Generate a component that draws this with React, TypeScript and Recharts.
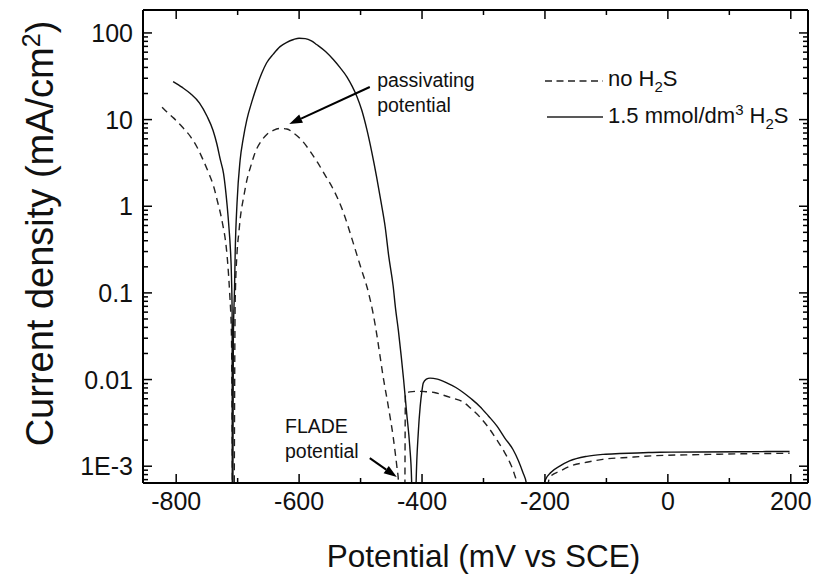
import {
  LineChart,
  Line,
  XAxis,
  YAxis,
  Legend,
  Label,
  ReferenceLine,
  ReferenceDot,
} from 'recharts';

const FONT = '"Liberation Sans", Arial, Helvetica, sans-serif';

// [potential (mV vs SCE), current density (mA/cm2)]
// values of 1e-5 / 5e-4 sit below the axis floor (the |i| dips on the log scale)
const NO_H2S_CURVE: [number, number][] = [
  [-823, 13.9], [-815, 12.2], [-804, 10.4], [-790, 8.2], [-777, 6.4], [-766, 4.8],
  [-756, 3.4], [-747, 2.4], [-739, 1.69], [-733, 1.15], [-728, 0.83], [-724, 0.6],
  [-720, 0.41], [-717, 0.26], [-715, 0.17], [-713, 0.1], [-710, 0.03], [-707, 1e-5],
  [-704, 0.08], [-701, 0.29], [-698, 0.5], [-696, 0.7], [-690, 1.3], [-685, 2.0],
  [-678, 3.0], [-672, 4.1], [-662, 5.6], [-653, 6.7], [-642, 7.5], [-631, 7.9],
  [-620, 7.8], [-609, 7.0], [-595, 5.7], [-582, 4.3], [-570, 3.2], [-558, 2.3],
  [-544, 1.55], [-528, 0.85], [-514, 0.42], [-500, 0.2], [-487, 0.1], [-479, 0.055],
  [-473, 0.031], [-468, 0.018], [-462, 0.0095], [-457, 0.006], [-452, 0.0037],
  [-447, 0.0022], [-444, 0.0015], [-441, 0.001], [-438, 0.0006], [-436, 1e-5],
  [-429, 1e-5], [-427, 0.0069], [-420, 0.0072], [-410, 0.0073], [-400, 0.0073],
  [-390, 0.0072], [-380, 0.0071], [-365, 0.0066], [-350, 0.0061], [-333, 0.0055],
  [-320, 0.0046], [-306, 0.0037], [-292, 0.0028], [-278, 0.002], [-267, 0.0015],
  [-257, 0.0011], [-250, 0.00082], [-246, 0.00063], [-244, 1e-5], [-200, 1e-5],
  [-195, 0.0006], [-192, 0.00075], [-175, 0.00088], [-159, 0.001], [-130, 0.00112],
  [-106, 0.0012], [-60, 0.00127], [-24, 0.00132], [50, 0.00136], [120, 0.00139],
  [198, 0.00141],
];

const H2S_CURVE: [number, number][] = [
  [-805, 27.5], [-790, 23.5], [-777, 20], [-762, 15.5], [-750, 11], [-740, 7.5],
  [-734, 5.3], [-728, 3.4], [-723, 2.4], [-717, 1.0], [-714, 0.55], [-712, 0.34],
  [-710, 0.15], [-709, 0.06], [-708.5, 1e-5], [-707, 0.03], [-705, 0.12], [-704, 0.29],
  [-701, 1.09], [-696, 3.4], [-691, 6], [-685, 10], [-677, 16], [-669, 24], [-661, 34],
  [-653, 45], [-642, 57], [-631, 69.5], [-620, 78], [-609, 84], [-600, 87], [-590, 86],
  [-580, 81], [-571, 73], [-557, 61], [-544, 49], [-533, 39.5], [-522, 31], [-514, 24.5],
  [-506, 18.5], [-498, 12.8], [-490, 7.8], [-482, 4.3], [-474, 2.2], [-467, 1.15],
  [-460, 0.58], [-454, 0.26], [-447, 0.12], [-443, 0.065], [-438.5, 0.037], [-434, 0.019],
  [-430, 0.01], [-425, 0.0041], [-420, 0.0017], [-417, 0.0007], [-415, 1e-5], [-412, 1e-5],
  [-410, 5e-4], [-406, 0.0025], [-403, 0.0049], [-400, 0.0075], [-398, 0.0091],
  [-393, 0.0101], [-387, 0.0104], [-375, 0.0101], [-359, 0.0091], [-345, 0.0081],
  [-333, 0.0071], [-320, 0.006], [-306, 0.0049], [-292, 0.0038], [-278, 0.0029],
  [-265, 0.0021], [-252, 0.00156], [-243, 0.00115], [-236, 0.00085], [-230, 0.00062],
  [-228, 1e-5], [-206, 1e-5], [-203, 5e-4], [-200, 0.00068], [-190, 0.00085],
  [-176, 0.001], [-160, 0.00115], [-132, 0.0013], [-105, 0.00137], [-78, 0.0014],
  [-40, 0.00143], [-13, 0.00145], [50, 0.00146], [120, 0.00147], [198, 0.00148],
];

const X_DOMAIN: [number, number] = [-854, 228];
const Y_DOMAIN: [number, number] = [6.4e-4, 184];
const X_MAJOR = [-800, -600, -400, -200, 0, 200];
const X_MINOR = [-700, -500, -300, -100, 100];
const Y_MAJOR = [0.001, 0.01, 0.1, 1, 10, 100];
const Y_MAJOR_LABELS = ['1E-3', '0.01', '0.1', '1', '10', '100'];
const Y_DECADES = [0.0001, 0.001, 0.01, 0.1, 1, 10, 100];
const Y_MINOR_STEPS = [2, 3, 4, 5, 6, 7, 8, 9];

const X_TICKS = [...X_MAJOR, ...X_MINOR].sort((a, b) => a - b);
const Y_TICKS = [
  ...Y_MAJOR,
  ...Y_DECADES.flatMap((d) => Y_MINOR_STEPS.map((m) => m * d)),
]
  .filter((v) => v >= Y_DOMAIN[0] && v <= Y_DOMAIN[1])
  .sort((a, b) => a - b);

const noH2S = NO_H2S_CURVE.map(([x, y]) => ({ x, y }));
const h2s = H2S_CURVE.map(([x, y]) => ({ x, y }));

const MAJOR_LEN = 9;
const MINOR_LEN = 5;
const TICK_STROKE = 1.5;

const isXMajor = (v: number) => X_MAJOR.includes(v);
const yMajorIndex = (v: number) => Y_MAJOR.findIndex((m) => Math.abs(m - v) < m * 1e-6);

function BottomTick({ x, y, payload }: any) {
  const major = isXMajor(payload.value);
  return (
    <g>
      <line x1={x} y1={y} x2={x} y2={y - (major ? MAJOR_LEN : MINOR_LEN)} stroke="#000" strokeWidth={TICK_STROKE} />
      {major && (
        <text x={x} y={y + 27} textAnchor="middle" fontSize={25} fontFamily={FONT} fill="#111">
          {payload.value}
        </text>
      )}
    </g>
  );
}

function TopTick({ x, y, payload }: any) {
  const major = isXMajor(payload.value);
  return <line x1={x} y1={y} x2={x} y2={y + (major ? MAJOR_LEN : MINOR_LEN)} stroke="#000" strokeWidth={TICK_STROKE} />;
}

function LeftTick({ x, y, payload }: any) {
  const idx = yMajorIndex(payload.value);
  const major = idx >= 0;
  return (
    <g>
      <line x1={x} y1={y} x2={x + (major ? MAJOR_LEN : MINOR_LEN)} y2={y} stroke="#000" strokeWidth={TICK_STROKE} />
      {major && (
        <text x={x - 10} y={y + 9} textAnchor="end" fontSize={25} fontFamily={FONT} fill="#111">
          {Y_MAJOR_LABELS[idx]}
        </text>
      )}
    </g>
  );
}

function RightTick({ x, y, payload }: any) {
  const major = yMajorIndex(payload.value) >= 0;
  return <line x1={x} y1={y} x2={x - (major ? MAJOR_LEN : MINOR_LEN)} y2={y} stroke="#000" strokeWidth={TICK_STROKE} />;
}

function YTitle({ viewBox }: any) {
  const vb = viewBox || { x: 0, y: 10, width: 143, height: 473 };
  const cx = vb.x + 53;
  const cy = vb.y + vb.height / 2 - 13;
  return (
    <text
      x={cx}
      y={cy}
      transform={`rotate(-90 ${cx} ${cy})`}
      textAnchor="middle"
      fontSize={38}
      fontFamily={FONT}
      fill="#111"
    >
      Current density (mA/cm
      <tspan dy={-13} fontSize={25}>2</tspan>
      <tspan dy={13}>)</tspan>
    </text>
  );
}

function XTitle({ viewBox }: any) {
  const vb = viewBox || { x: 143, y: 483, width: 665, height: 91 };
  return (
    <text x={vb.x + vb.width / 2 + 8} y={vb.y + 84} textAnchor="middle" fontSize={31.5} fontFamily={FONT} fill="#111">
      Potential (mV vs SCE)
    </text>
  );
}

function Arrow(props: any) {
  const { x1, y1, x2, y2 } = props;
  const dx = x2 - x1;
  const dy = y2 - y1;
  const len = Math.hypot(dx, dy) || 1;
  const ux = dx / len;
  const uy = dy / len;
  const hl = 13;
  const hw = 4.5;
  const bx = x2 - ux * hl;
  const by = y2 - uy * hl;
  return (
    <g>
      <line x1={x1} y1={y1} x2={bx} y2={by} stroke="#000" strokeWidth={2} />
      <polygon
        points={`${x2},${y2} ${bx - uy * hw},${by + ux * hw} ${bx + uy * hw},${by - ux * hw}`}
        fill="#000"
      />
    </g>
  );
}

function Note({ cx, cy, lines }: any) {
  return (
    <text x={cx} y={cy} fontSize={19.5} fontFamily={FONT} fill="#111">
      {lines.map((t: string, i: number) => (
        <tspan key={t} x={cx} dy={i === 0 ? 0 : 25}>
          {t}
        </tspan>
      ))}
    </text>
  );
}

function LegendBox() {
  return (
    <svg width={270} height={75} style={{ display: 'block', overflow: 'visible' }}>
      <line x1={5} x2={63} y1={19} y2={19} stroke="#222" strokeWidth={1.3} strokeDasharray="7 4.5" />
      <text x={68} y={24} fontSize={22} fontFamily={FONT} fill="#111">
        no H<tspan dy={6} fontSize={15}>2</tspan>
        <tspan dy={-6}>S</tspan>
      </text>
      <line x1={7} x2={63} y1={55} y2={55} stroke="#222" strokeWidth={1.3} />
      <text x={68} y={61} fontSize={22} fontFamily={FONT} fill="#111">
        1.5 mmol/dm<tspan dy={-8} fontSize={15}>3</tspan>
        <tspan dy={8}> H</tspan>
        <tspan dy={6} fontSize={15}>2</tspan>
        <tspan dy={-6}>S</tspan>
      </text>
    </svg>
  );
}

export default function App() {
  return (
    <div style={{ position: 'absolute', left: 0, top: 0, width: 817, height: 574, background: '#fff' }}>
      <LineChart width={817} height={574} margin={{ top: 9, right: 8, bottom: 0, left: 0 }}>
        <XAxis
          xAxisId={0}
          type="number"
          dataKey="x"
          domain={X_DOMAIN}
          allowDataOverflow
          ticks={X_TICKS}
          interval={0}
          height={91}
          tickSize={0}
          tickMargin={0}
          tickLine={false}
          tick={BottomTick}
          axisLine={{ stroke: '#000', strokeWidth: 2 }}
        >
          <Label content={XTitle} />
        </XAxis>
        <XAxis
          xAxisId="top"
          orientation="top"
          type="number"
          dataKey="x"
          domain={X_DOMAIN}
          allowDataOverflow
          ticks={X_TICKS}
          interval={0}
          height={1}
          tickSize={0}
          tickMargin={0}
          tickLine={false}
          tick={TopTick}
          axisLine={{ stroke: '#000', strokeWidth: 2 }}
        />
        <YAxis
          yAxisId={0}
          scale="log"
          domain={Y_DOMAIN}
          allowDataOverflow
          ticks={Y_TICKS}
          interval={0}
          width={143}
          tickSize={0}
          tickMargin={0}
          tickLine={false}
          tick={LeftTick}
          axisLine={{ stroke: '#000', strokeWidth: 2 }}
        >
          <Label content={YTitle} />
        </YAxis>
        <YAxis
          yAxisId="right"
          orientation="right"
          scale="log"
          domain={Y_DOMAIN}
          allowDataOverflow
          ticks={Y_TICKS}
          interval={0}
          width={1}
          tickSize={0}
          tickMargin={0}
          tickLine={false}
          tick={RightTick}
          axisLine={{ stroke: '#000', strokeWidth: 2 }}
        />
        <Line
          data={noH2S}
          dataKey="y"
          name="no H2S"
          type="monotone"
          stroke="#222"
          strokeWidth={1.4}
          strokeDasharray="7 5"
          dot={false}
          activeDot={false}
          isAnimationActive={false}
        />
        <Line
          data={h2s}
          dataKey="y"
          name="1.5 mmol/dm3 H2S"
          type="monotone"
          stroke="#111"
          strokeWidth={1.4}
          dot={false}
          activeDot={false}
          isAnimationActive={false}
        />
        <ReferenceLine
          segment={[
            { x: -485, y: 23.8 },
            { x: -616, y: 8.9 },
          ]}
          shape={Arrow}
        />
        <ReferenceLine
          segment={[
            { x: -485, y: 0.00124 },
            { x: -441, y: 0.00075 },
          ]}
          shape={Arrow}
        />
        <ReferenceDot x={-473} y={24} shape={(p: any) => <Note {...p} lines={['passivating', 'potential']} />} />
        <ReferenceDot x={-623} y={0.0024} shape={(p: any) => <Note {...p} lines={['FLADE', 'potential']} />} />
        <Legend
          layout="horizontal"
          verticalAlign="middle"
          align="center"
          width={270}
          height={75}
          wrapperStyle={{ left: 540, top: 62, width: 270, height: 75 }}
          content={LegendBox}
        />
      </LineChart>
    </div>
  );
}
